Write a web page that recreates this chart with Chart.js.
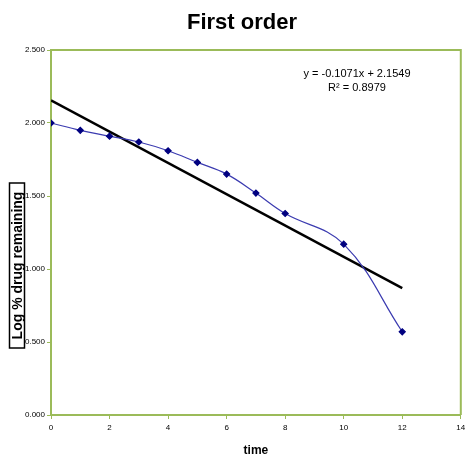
<!DOCTYPE html>
<html>
<head>
<meta charset="utf-8">
<script src="https://cdn.jsdelivr.net/npm/chart.js@4"></script>
<style>
html,body{margin:0;padding:0;background:#fff;}
#wrap{width:466px;height:455px;position:relative;}
</style>
</head>
<body>
<div id="wrap"><canvas id="chartOrder"></canvas></div>
<script>
/*
  First order - log % drug remaining vs time
*/

const timeValues = [0, 1, 2, 3, 4, 5, 6, 7, 8, 10, 12];
const logRemaining = [2.00, 1.95, 1.91, 1.87, 1.81, 1.73, 1.65, 1.52, 1.38, 1.17, 0.57];

// trendline end points (y = -0.1071x + 2.1549)
const trendX = [0, 12];
const trendY = [2.1549, 0.8697];

const xTicks = [0, 2, 4, 6, 8, 10, 12, 14];
const yTicks = [0, 0.5, 1.0, 1.5, 2.0, 2.5];

const titleText = "First order";
const xTitle = "time";
const yTitle = "Log % drug remaining";
const equationLines = ["y = -0.1071x + 2.1549", "R\u00b2 = 0.8979"];

const green = "#9bbb59";
const sans = "'Liberation Sans', Arial, sans-serif";

const extrasPlugin = {
    id: "extras",
    afterDraw(chart){
        const ctx = chart.ctx;
        const area = chart.chartArea;
        ctx.save();

        // top + right frame
        ctx.strokeStyle = green;
        ctx.lineWidth = 2;
        ctx.beginPath();
        ctx.moveTo(area.left, area.top);
        ctx.lineTo(area.right, area.top);
        ctx.lineTo(area.right, area.bottom);
        ctx.stroke();

        ctx.fillStyle = "#000";
        ctx.textAlign = "center";
        ctx.textBaseline = "middle";

        // title
        ctx.font = "bold 22px " + sans;
        ctx.fillText(titleText, 242, 23);

        // equation
        ctx.font = "11px " + sans;
        ctx.fillText(equationLines[0], 357, 74);
        ctx.fillText(equationLines[1], 357, 88);

        // y title with box
        ctx.translate(17, 265.5);
        ctx.rotate(-Math.PI / 2);
        ctx.font = "bold 14px " + sans;
        ctx.fillText(yTitle, 0, 1);
        ctx.strokeStyle = "#000";
        ctx.lineWidth = 1.5;
        ctx.strokeRect(-82.5, -7.5, 165, 15);

        ctx.restore();
    }
};

new Chart(
    document.getElementById("chartOrder"),
    {
        type: "scatter",
        data: {
            datasets: [
                {
                    label: "trend",
                    data: trendX.map((x, i) => ({x: x, y: trendY[i]})),
                    showLine: true,
                    borderColor: "#000",
                    borderWidth: 2.5,
                    pointRadius: 0,
                    order: 2
                },
                {
                    label: "data",
                    data: timeValues.map((x, i) => ({x: x, y: logRemaining[i]})),
                    showLine: true,
                    tension: 0.4,
                    borderColor: "#3b3bb0",
                    borderWidth: 1.2,
                    pointStyle: "rectRot",
                    pointRadius: 3,
                    pointBackgroundColor: "#000080",
                    pointBorderColor: "#000080",
                    order: 1
                }
            ]
        },
        options: {
            responsive: true,
            maintainAspectRatio: false,
            animation: false,
            layout: {
                padding: {left: 0, right: 0, top: 50, bottom: 0}
            },
            plugins: {
                legend: {display: false},
                tooltip: {enabled: false},
                title: {display: false}
            },
            scales: {
                x: {
                    type: "linear",
                    min: 0,
                    max: 14,
                    afterBuildTicks(scale){
                        scale.ticks = xTicks.map(v => ({value: v}));
                    },
                    afterFit(scale){
                        scale.height = 40;
                        scale.paddingRight = 4;
                        scale.paddingLeft = 0;
                    },
                    border: {color: green, width: 2},
                    grid: {
                        display: true,
                        drawOnChartArea: false,
                        color: green,
                        tickLength: 4
                    },
                    ticks: {
                        color: "#000",
                        font: {family: sans, size: 8},
                        padding: 4
                    },
                    title: {
                        display: true,
                        text: xTitle,
                        color: "#000",
                        font: {family: sans, size: 12, weight: "bold", lineHeight: 0.7},
                        padding: {top: 0, bottom: 0}
                    }
                },
                y: {
                    min: 0,
                    max: 2.5,
                    afterBuildTicks(scale){
                        scale.ticks = yTicks.map(v => ({value: v}));
                    },
                    afterFit(scale){
                        scale.width = 51;
                    },
                    border: {color: green, width: 2},
                    grid: {
                        display: true,
                        drawOnChartArea: false,
                        color: green,
                        tickLength: 4
                    },
                    ticks: {
                        color: "#000",
                        font: {family: sans, size: 8},
                        padding: 2,
                        callback: v => v.toFixed(3)
                    }
                }
            }
        },
        plugins: [extrasPlugin]
    }
);
</script>
</body>
</html>
